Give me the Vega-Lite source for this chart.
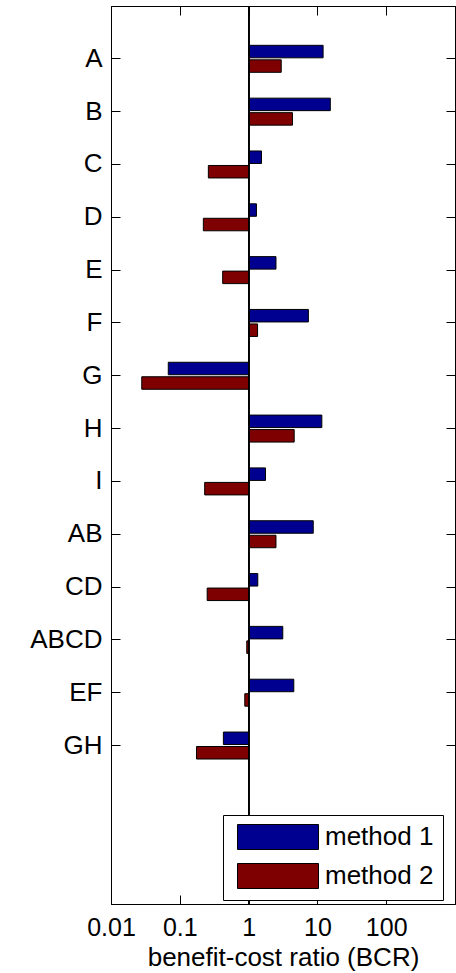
{
  "$schema": "https://vega.github.io/schema/vega-lite/v6.json",
  "width": 344,
  "height": 898,
  "autosize": {"type": "none"},
  "padding": {"left": 111, "top": 6, "right": 1, "bottom": 69},
  "background": "#ffffff",
  "data": {
    "values": [
      {"item": "A", "method": "method 1", "value": 12.1},
      {"item": "A", "method": "method 2", "value": 2.98},
      {"item": "B", "method": "method 1", "value": 15.4},
      {"item": "B", "method": "method 2", "value": 4.34},
      {"item": "C", "method": "method 1", "value": 1.54},
      {"item": "C", "method": "method 2", "value": 0.26},
      {"item": "D", "method": "method 1", "value": 1.3},
      {"item": "D", "method": "method 2", "value": 0.22},
      {"item": "E", "method": "method 1", "value": 2.5},
      {"item": "E", "method": "method 2", "value": 0.42},
      {"item": "F", "method": "method 1", "value": 7.4},
      {"item": "F", "method": "method 2", "value": 1.35},
      {"item": "G", "method": "method 1", "value": 0.068},
      {"item": "G", "method": "method 2", "value": 0.028},
      {"item": "H", "method": "method 1", "value": 11.6},
      {"item": "H", "method": "method 2", "value": 4.6},
      {"item": "I", "method": "method 1", "value": 1.76},
      {"item": "I", "method": "method 2", "value": 0.23},
      {"item": "AB", "method": "method 1", "value": 8.7},
      {"item": "AB", "method": "method 2", "value": 2.5},
      {"item": "CD", "method": "method 1", "value": 1.36},
      {"item": "CD", "method": "method 2", "value": 0.25},
      {"item": "ABCD", "method": "method 1", "value": 3.14},
      {"item": "ABCD", "method": "method 2", "value": 0.94},
      {"item": "EF", "method": "method 1", "value": 4.54},
      {"item": "EF", "method": "method 2", "value": 0.88},
      {"item": "GH", "method": "method 1", "value": 0.43},
      {"item": "GH", "method": "method 2", "value": 0.175}
    ]
  },
  "layer": [
    {
      "mark": {"type": "bar", "stroke": "#000000", "strokeWidth": 1, "opacity": 1},
      "encoding": {
        "x": {
          "field": "value", "type": "quantitative",
          "scale": {"type": "log", "domain": [0.01, 1000], "nice": false},
          "axis": {
            "orient": "bottom",
            "title": "benefit-cost ratio (BCR)",
            "values": [0.01, 0.1, 1, 10, 100],
            "labelExpr": "format(datum.value, '~g')",
            "labelFlush": false,
            "labelFontSize": 25,
            "labelPadding": 20,
            "titleFontSize": 26,
            "titlePadding": 4
          }
        },
        "x2": {"datum": 1},
        "y": {
          "field": "item", "type": "nominal",
          "scale": {
            "domain": ["A","B","C","D","E","F","G","H","I","AB","CD","ABCD","EF","GH","_p1","_p2"],
            "paddingInner": 0.489,
            "paddingOuter": 0.7445
          },
          "axis": {
            "orient": "left",
            "title": null,
            "values": ["A","B","C","D","E","F","G","H","I","AB","CD","ABCD","EF","GH"],
            "labelFontSize": 26,
            "labelPadding": 18
          }
        },
        "yOffset": {
          "field": "method", "type": "nominal",
          "scale": {"paddingInner": 0.138, "paddingOuter": 0}
        },
        "color": {
          "field": "method", "type": "nominal",
          "scale": {"domain": ["method 1", "method 2"], "range": ["#000090", "#7f0000"]},
          "legend": {
            "title": null,
            "orient": "none",
            "legendX": 112,
            "legendY": 809,
            "padding": 9,
            "strokeColor": "#000000",
            "fillColor": "#ffffff",
            "symbolType": "M-3.24,-1H3.24V1H-3.24Z",
            "symbolSize": 625,
            "symbolStrokeColor": "#000000",
            "symbolStrokeWidth": 1,
            "symbolOpacity": 1,
            "symbolOffset": 33,
            "labelOffset": 34,
            "labelFontSize": 26,
            "labelFont": "Liberation Sans",
            "labelColor": "#000000",
            "rowPadding": 9
          }
        }
      }
    },
    {
      "mark": {"type": "rule", "color": "#000000", "strokeWidth": 1},
      "encoding": {
        "x": {"datum": 1, "type": "quantitative", "axis": null}
      }
    },
    {
      "mark": {"type": "point", "opacity": 0},
      "encoding": {
        "x": {
          "field": "value", "type": "quantitative",
          "axis": {"orient": "top", "title": null, "labels": false, "values": [0.1, 1, 10, 100]}
        },
        "y": {
          "field": "item", "type": "nominal",
          "axis": {"orient": "right", "title": null, "labels": false,
                   "values": ["A","B","C","D","E","F","G","H","I","AB","CD","ABCD","EF","GH"]}
        }
      }
    }
  ],
  "resolve": {"axis": {"x": "independent", "y": "independent"}},
  "config": {
    "view": {"stroke": "#000000", "strokeWidth": 1},
    "axis": {
      "grid": false,
      "domainColor": "#000000",
      "tickColor": "#000000",
      "labelColor": "#000000",
      "titleColor": "#000000",
      "labelFont": "Liberation Sans",
      "titleFont": "Liberation Sans",
      "titleFontWeight": "normal",
      "tickSize": -9,
      "ticks": true
    }
  }
}
